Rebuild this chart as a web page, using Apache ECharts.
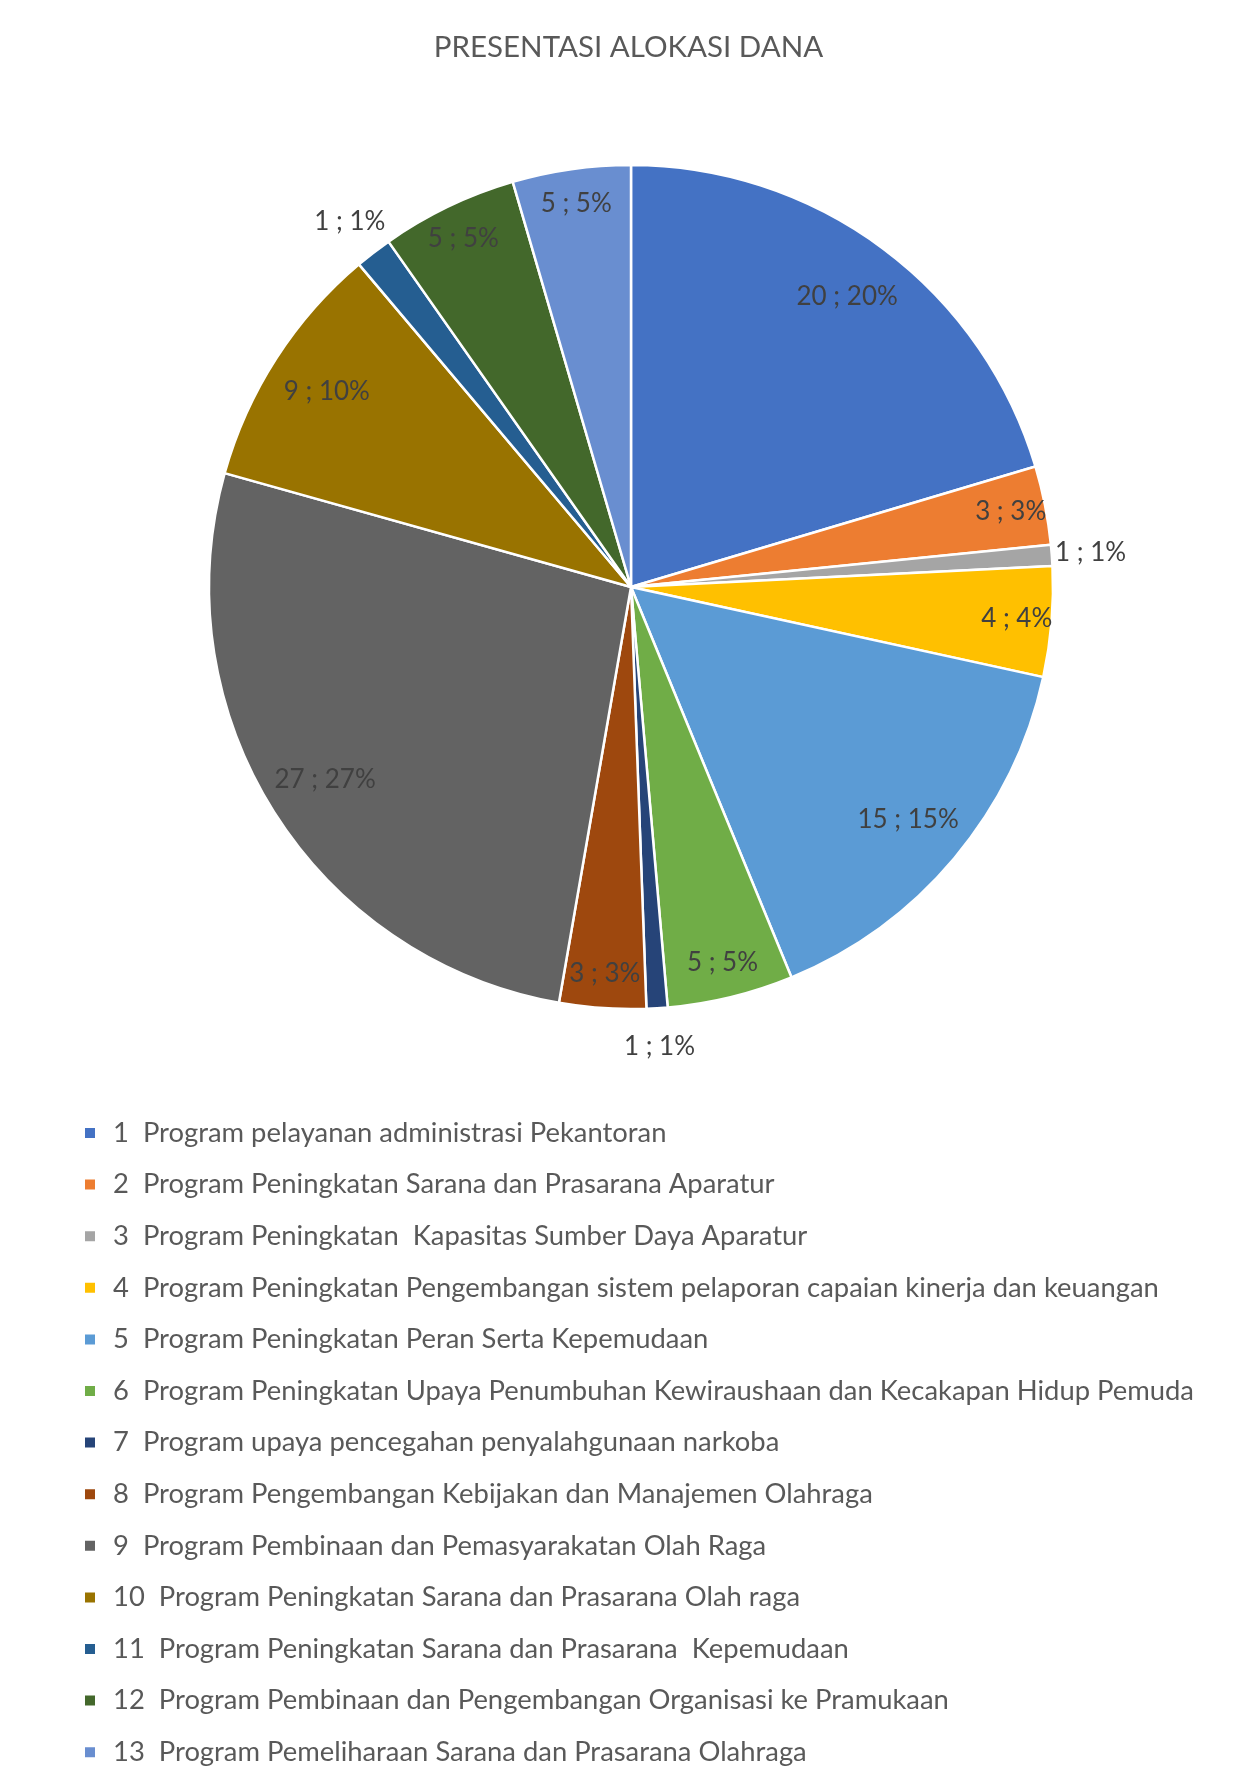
<!DOCTYPE html>
<html>
<head>
<meta charset="utf-8">
<script src="https://cdn.jsdelivr.net/npm/echarts@6/dist/echarts.min.js"></script>
<style>
html, body { margin: 0; padding: 0; background: #fff; }
#chart { width: 1257px; height: 1780px; }
</style>
</head>
<body>
<div id="chart"></div>
<script>
var programNames = [
  "1  Program pelayanan administrasi Pekantoran",
  "2  Program Peningkatan Sarana dan Prasarana Aparatur",
  "3  Program Peningkatan  Kapasitas Sumber Daya Aparatur",
  "4  Program Peningkatan Pengembangan sistem pelaporan capaian kinerja dan keuangan",
  "5  Program Peningkatan Peran Serta Kepemudaan",
  "6  Program Peningkatan Upaya Penumbuhan Kewiraushaan dan Kecakapan Hidup Pemuda",
  "7  Program upaya pencegahan penyalahgunaan narkoba",
  "8  Program Pengembangan Kebijakan dan Manajemen Olahraga",
  "9  Program Pembinaan dan Pemasyarakatan Olah Raga",
  "10  Program Peningkatan Sarana dan Prasarana Olah raga",
  "11  Program Peningkatan Sarana dan Prasarana  Kepemudaan",
  "12  Program Pembinaan dan Pengembangan Organisasi ke Pramukaan",
  "13  Program Pemeliharaan Sarana dan Prasarana Olahraga"
];
var alokasi = [20.3, 3.0, 0.8, 4.2, 15.3, 4.8, 0.8, 3.3, 26.5, 9.46, 1.4, 5.2, 4.5];
var sliceColors = ["#4472C4", "#ED7D31", "#A5A5A5", "#FFC000", "#5B9BD5", "#70AD47",
  "#264478", "#9E480E", "#636363", "#997300", "#255E91", "#43682B", "#698ED0"];

var total = alokasi.reduce(function (a, b) { return a + b; }, 0);
var pieData = programNames.map(function (n, i) {
  return { name: n, value: alokasi[i], itemStyle: { color: sliceColors[i] } };
});
var fontName = "Lato";
var R = 422;
var center = [631, 587];

function labelText(v) {
  return Math.round(v) + " ; " + Math.round(v / total * 100) + "%";
}

// transparent ring, only used to place labels at a given radius
function labelRing(r0, r1, keep) {
  return {
    type: "pie",
    center: center,
    radius: [r0, r1],
    startAngle: 90,
    clockwise: true,
    silent: true,
    animation: false,
    avoidLabelOverlap: false,
    data: programNames.map(function (n, i) { return { name: n, value: alokasi[i] }; }),
    itemStyle: { color: "rgba(0,0,0,0)", borderWidth: 0 },
    label: {
      show: true,
      position: "inside",
      color: "#404040",
      fontFamily: fontName,
      fontSize: 26,
      formatter: function (p) { return keep(p.value) ? labelText(p.value) : ""; }
    },
    labelLine: { show: false },
    emphasis: { disabled: true }
  };
}

var chart = echarts.init(document.getElementById("chart"));
var option = {
  backgroundColor: "#fff",
  animation: false,
  title: {
    text: "PRESENTASI ALOKASI DANA",
    left: "center",
    top: 27,
    textStyle: { color: "#595959", fontFamily: fontName, fontSize: 29.5, fontWeight: "normal" }
  },
  legend: {
    orient: "vertical",
    left: 83,
    top: 1118,
    padding: 0,
    icon: "rect",
    itemWidth: 12,
    itemHeight: 12,
    itemGap: 21.6,
    selectedMode: false,
    data: programNames,
    textStyle: { color: "#595959", fontFamily: fontName, fontSize: 27.4, lineHeight: 30, padding: [0, 0, 0, 12] }
  },
  series: [
    {
      type: "pie",
      center: center,
      radius: R,
      startAngle: 90,
      clockwise: true,
      data: pieData,
      itemStyle: { borderColor: "#fff", borderWidth: 2.5 },
      label: { show: false },
      labelLine: { show: false },
      emphasis: { disabled: true }
    },
    labelRing(R * 0.70, R, function (v) { return v >= 8; }),
    labelRing(R * 0.82, R, function (v) { return v >= 2 && v < 8; }),
    labelRing(R, R * 1.17, function (v) { return v < 2; })
  ]
};
chart.setOption(option);
</script>
</body>
</html>
